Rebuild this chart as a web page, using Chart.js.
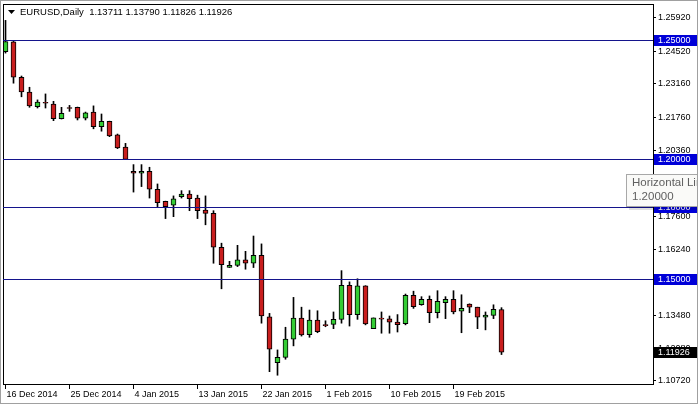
<!DOCTYPE html>
<html>
<head>
<meta charset="utf-8">
<script src="https://cdn.jsdelivr.net/npm/chart.js@4.4.1/dist/chart.umd.min.js"></script>
<style>
  html, body { margin: 0; padding: 0; background: #fff; }
  canvas { display: block; }
</style>
</head>
<body>
<canvas id="chart" width="698" height="404"></canvas>
<script>
// daily bars, 16 Dec 2014 .. 26 Feb 2015 (broker with sunday bars)
const dates = [
  '16 Dec 2014', '17 Dec 2014', '18 Dec 2014', '19 Dec 2014', '21 Dec 2014', '22 Dec 2014', '23 Dec 2014', '24 Dec 2014',
  '25 Dec 2014', '26 Dec 2014', '28 Dec 2014', '29 Dec 2014', '30 Dec 2014', '31 Dec 2014', '1 Jan 2015', '2 Jan 2015',
  '4 Jan 2015', '5 Jan 2015', '6 Jan 2015', '7 Jan 2015', '8 Jan 2015', '9 Jan 2015', '11 Jan 2015', '12 Jan 2015',
  '13 Jan 2015', '14 Jan 2015', '15 Jan 2015', '16 Jan 2015', '18 Jan 2015', '19 Jan 2015', '20 Jan 2015', '21 Jan 2015',
  '22 Jan 2015', '23 Jan 2015', '25 Jan 2015', '26 Jan 2015', '27 Jan 2015', '28 Jan 2015', '29 Jan 2015', '30 Jan 2015',
  '1 Feb 2015', '2 Feb 2015', '3 Feb 2015', '4 Feb 2015', '5 Feb 2015', '6 Feb 2015', '8 Feb 2015', '9 Feb 2015',
  '10 Feb 2015', '11 Feb 2015', '12 Feb 2015', '13 Feb 2015', '15 Feb 2015', '16 Feb 2015', '17 Feb 2015', '18 Feb 2015',
  '19 Feb 2015', '20 Feb 2015', '22 Feb 2015', '23 Feb 2015', '24 Feb 2015', '25 Feb 2015', '26 Feb 2015'
];
const opens = [
  1.2451, 1.2492, 1.2344, 1.2282, 1.2221, 1.2239, 1.2232, 1.2170,
  1.2217, 1.2218, 1.2173, 1.2198, 1.2137, 1.2159, 1.2103, 1.2051,
  1.1950, 1.1942, 1.1950, 1.1875, 1.1824, 1.1808, 1.1844, 1.1855,
  1.1838, 1.1788, 1.1774, 1.1632, 1.1548, 1.1556, 1.1579, 1.1565,
  1.1598, 1.1341, 1.1149, 1.1171, 1.1247, 1.1335, 1.1266, 1.1327,
  1.1308, 1.1309, 1.1330, 1.1473, 1.1350, 1.1470, 1.1291, 1.1335,
  1.1332, 1.1319, 1.1312, 1.1431, 1.1391, 1.1414, 1.1358, 1.1400,
  1.1414, 1.1364, 1.1394, 1.1381, 1.1339, 1.1347, 1.13711
];
const highs = [
  1.2582, 1.2494, 1.2349, 1.2302, 1.2249, 1.2274, 1.2243, 1.2218,
  1.2226, 1.2219, 1.2198, 1.2224, 1.2190, 1.2160, 1.2106, 1.2067,
  1.1978, 1.1978, 1.1967, 1.1897, 1.1825, 1.1847, 1.1869, 1.1869,
  1.1850, 1.1847, 1.1785, 1.1649, 1.1573, 1.1640, 1.1615, 1.1679,
  1.1646, 1.1355, 1.1202, 1.1297, 1.1422, 1.1381, 1.1369, 1.1366,
  1.1324, 1.1361, 1.1534, 1.1487, 1.1500, 1.1471, 1.1336, 1.1361,
  1.1344, 1.1350, 1.1436, 1.1448, 1.1425, 1.1428, 1.1450, 1.1425,
  1.1450, 1.1433, 1.1395, 1.1381, 1.1361, 1.1391, 1.13790
];
const lows = [
  1.2445, 1.2319, 1.2262, 1.2218, 1.2215, 1.2215, 1.2162, 1.2169,
  1.2201, 1.2165, 1.2165, 1.2128, 1.2118, 1.2095, 1.2045, 1.1999,
  1.1863, 1.1886, 1.1838, 1.1802, 1.1752, 1.1760, 1.1838, 1.1785,
  1.1752, 1.1726, 1.1565, 1.1458, 1.1547, 1.1551, 1.1540, 1.1547,
  1.1314, 1.1111, 1.1096, 1.1163, 1.1219, 1.1260, 1.1255, 1.1274,
  1.1299, 1.1291, 1.1314, 1.1302, 1.1330, 1.1307, 1.1291, 1.1272,
  1.1272, 1.1277, 1.1307, 1.1376, 1.1389, 1.1316, 1.1336, 1.1333,
  1.1353, 1.1274, 1.1358, 1.1291, 1.1286, 1.1333, 1.11826
];
const closes = [
  1.2493, 1.2344, 1.2282, 1.2224, 1.2240, 1.2235, 1.2170, 1.2193,
  1.2213, 1.2173, 1.2195, 1.2137, 1.2159, 1.2098, 1.2048, 1.2000,
  1.1942, 1.1950, 1.1875, 1.1819, 1.1802, 1.1835, 1.1855, 1.1835,
  1.1785, 1.1774, 1.1632, 1.1559, 1.1556, 1.1579, 1.1565, 1.1598,
  1.1344, 1.1205, 1.1171, 1.1247, 1.1335, 1.1265, 1.1327, 1.1278,
  1.1304, 1.1330, 1.1473, 1.1350, 1.1470, 1.1311, 1.1336, 1.1331,
  1.1318, 1.1308, 1.1431, 1.1383, 1.1414, 1.1358, 1.1406, 1.1414,
  1.1361, 1.1376, 1.1381, 1.1339, 1.1348, 1.1372, 1.11926
];

const yTicks = [1.25920, 1.24520, 1.23160, 1.21760, 1.20360, 1.18960, 1.17600, 1.16240, 1.14840, 1.13480, 1.12080, 1.10720];
const xTickIdx = [0, 8, 16, 24, 32, 40, 48, 56];
const hLines = [1.25, 1.20, 1.18, 1.15];
const lastPrice = 1.11926;
const titleText = 'EURUSD,Daily  1.13711 1.13790 1.11826 1.11926';
const hintLines = ['Horizontal Line', '1.20000'];

const UP = '#34cc34';
const DOWN = '#c81e1e';
const FONT = '9px "Liberation Sans", Arial, sans-serif';

const bodies = dates.map((d, i) => ({ x: i, y: [opens[i], closes[i]] }));
const wicks = dates.map((d, i) => ({ x: i, y: [lows[i], highs[i]] }));
const bodyColors = opens.map((o, i) => closes[i] >= o ? UP : DOWN);

const overlay = {
  id: 'overlay',
  beforeDraw(chart) {
    const ctx = chart.ctx;
    ctx.save();
    ctx.fillStyle = '#fff';
    ctx.fillRect(0, 0, chart.width, chart.height);
    ctx.restore();
  },
  afterDraw(chart) {
    const { ctx, chartArea: a, scales: { y } } = chart;
    ctx.save();

    // plot frame
    ctx.strokeStyle = '#000';
    ctx.lineWidth = 1;
    ctx.strokeRect(a.left + 0.5, a.top + 0.5, a.right - a.left, a.bottom - a.top);

    // horizontal line objects
    ctx.strokeStyle = '#14148c';
    hLines.forEach(v => {
      const py = Math.round(y.getPixelForValue(v)) + 0.5;
      ctx.beginPath();
      ctx.moveTo(a.left, py);
      ctx.lineTo(a.right, py);
      ctx.stroke();
    });

    // price tags on the axis
    ctx.font = FONT;
    ctx.textBaseline = 'middle';
    const tag = (v, bg) => {
      const py = Math.round(y.getPixelForValue(v));
      ctx.fillStyle = bg;
      ctx.fillRect(a.right + 1, py - 5, 44, 11);
      ctx.fillStyle = '#fff';
      ctx.fillText(v.toFixed(5), a.right + 5, py + 0.5);
    };
    hLines.forEach(v => tag(v, '#0000d8'));
    tag(lastPrice, '#000');

    // title
    ctx.fillStyle = '#000';
    ctx.beginPath();
    ctx.moveTo(8, 10);
    ctx.lineTo(15, 10);
    ctx.lineTo(11.5, 14);
    ctx.closePath();
    ctx.fill();
    ctx.font = '9.5px "Liberation Sans", Arial, sans-serif';
    ctx.fillText(titleText, 20, 12.5);

    // object hint box
    ctx.fillStyle = 'rgba(0,0,0,0.12)';
    ctx.fillRect(629, 177, 80, 33);
    ctx.fillStyle = '#fafaf8';
    ctx.fillRect(626, 174, 80, 32);
    ctx.strokeStyle = '#a8a8a8';
    ctx.strokeRect(626.5, 174.5, 80, 32);
    ctx.fillStyle = '#606060';
    ctx.font = '11.5px "Liberation Sans", Arial, sans-serif';
    ctx.fillText(hintLines[0], 632, 183);
    ctx.fillText(hintLines[1], 632, 197);

    // window edge
    ctx.strokeStyle = '#a0a0a0';
    ctx.strokeRect(0.5, 0.5, chart.width - 1, chart.height - 1);
    ctx.restore();
  }
};

new Chart(document.getElementById('chart'), {
  type: 'bar',
  data: {
    datasets: [
      {
        label: 'wick',
        data: wicks,
        backgroundColor: '#000',
        barThickness: 1,
        grouped: false,
        order: 2
      },
      {
        label: 'body',
        data: bodies,
        backgroundColor: bodyColors,
        borderColor: '#000',
        borderWidth: 1,
        borderSkipped: false,
        barThickness: 5,
        grouped: false,
        order: 1
      }
    ]
  },
  options: {
    responsive: false,
    animation: false,
    layout: { padding: { left: 3, top: 4, right: 0, bottom: 0 } },
    plugins: {
      legend: { display: false },
      tooltip: { enabled: false }
    },
    scales: {
      x: {
        type: 'linear',
        min: -0.3125,
        max: 80.9375,
        offset: false,
        afterBuildTicks: s => { s.ticks = xTickIdx.map(v => ({ value: v })); },
        afterFit: s => { s.height = 20; s.paddingLeft = 0; s.paddingRight = 0; },
        grid: { offset: false, drawOnChartArea: false, drawTicks: true, tickLength: 5, color: '#000' },
        border: { display: false },
        ticks: {
          align: 'start',
          labelOffset: 1,
          padding: 0,
          maxRotation: 0,
          autoSkip: false,
          color: '#000',
          font: { family: '"Liberation Sans", Arial, sans-serif', size: 9 },
          callback: v => dates[v]
        }
      },
      y: {
        position: 'right',
        min: 1.10593,
        max: 1.26506,
        afterBuildTicks: s => { s.ticks = yTicks.map(v => ({ value: v })); },
        afterFit: s => { s.width = 45; s.paddingTop = 0; s.paddingBottom = 0; },
        grid: { drawOnChartArea: false, tickLength: 3, color: '#000' },
        border: { display: false },
        ticks: {
          padding: 2,
          color: '#000',
          font: { family: '"Liberation Sans", Arial, sans-serif', size: 9 },
          callback: v => v.toFixed(5)
        }
      }
    }
  },
  plugins: [overlay]
});
</script>
</body>
</html>
